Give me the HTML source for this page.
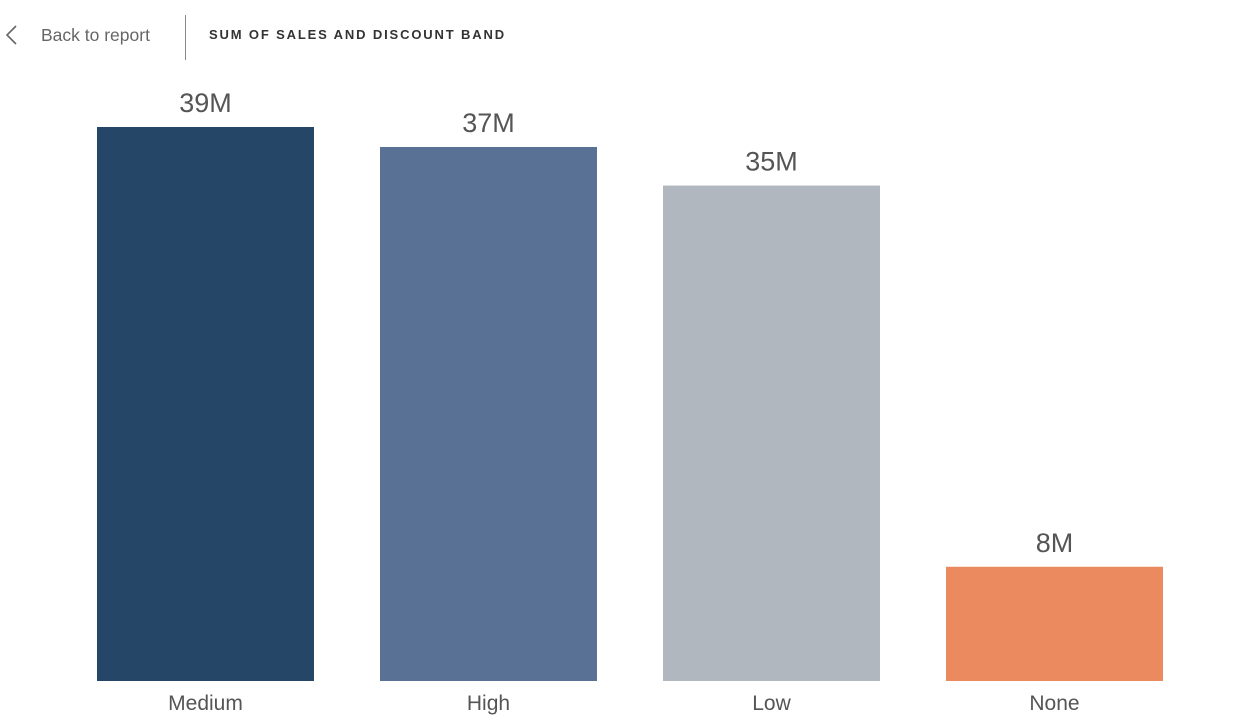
<!DOCTYPE html>
<html><head><meta charset="utf-8"><style>
body{margin:0;width:1255px;height:722px;background:#fff;overflow:hidden;font-family:"Liberation Sans",sans-serif;position:relative}
.hdr{position:absolute}
</style></head><body>
<div>
<svg class="hdr" style="left:3px;top:24px" width="16" height="24"><polyline points="13,2 4,11 13,20" fill="none" stroke="#666" stroke-width="1.6"/></svg>
<div class="hdr" style="left:41px;top:25px;font-size:17.5px;color:#666">Back to report</div>
<div class="hdr" style="left:185px;top:15px;width:1px;height:45px;background:#888"></div>
<div class="hdr" style="left:209px;top:27px;font-size:13px;font-weight:bold;letter-spacing:1.85px;color:#333">SUM OF SALES AND DISCOUNT BAND</div>
</div>
<svg id="chart" style="position:absolute;left:0;top:0" width="1255" height="722"></svg>
<script>
const categories=["Medium","High","Low","None"];
const values=[38.8,37.4,34.7,8.0];
const labels=["39M","37M","35M","8M"];
const colors=["#264668","#587194","#B0B7BF","#EA8A5E"];
const svg=document.getElementById('chart');
const NS="http://www.w3.org/2000/svg";
const base=681, pxPerUnit=554/38.8;
const y=v=>base-v*pxPerUnit;
const x0=97, step=283, bw=217;
const xPos=i=>x0+i*step;
categories.forEach((c,i)=>{
 const r=document.createElementNS(NS,'rect');
 
 
 r.setAttribute('x',xPos(i));r.setAttribute('width',bw);
 r.setAttribute('y',y(values[i]));r.setAttribute('height',base-y(values[i]));
 r.setAttribute('fill',colors[i]);svg.appendChild(r);
 const t=document.createElementNS(NS,'text');
 
 
 t.setAttribute('x',xPos(i)+bw/2);t.setAttribute('y',y(values[i])-15);
 t.setAttribute('text-anchor','middle');t.setAttribute('font-size','27');t.setAttribute('fill','#555');
 t.setAttribute('font-family','Liberation Sans, sans-serif');
 t.textContent=labels[i];svg.appendChild(t);
 const l=document.createElementNS(NS,'text');
 
 
 l.setAttribute('x',xPos(i)+bw/2);l.setAttribute('y',710);
 l.setAttribute('text-anchor','middle');l.setAttribute('font-size','21');l.setAttribute('fill','#555');
 l.setAttribute('font-family','Liberation Sans, sans-serif');
 l.textContent=c;svg.appendChild(l);
});
</script>
</body></html>
